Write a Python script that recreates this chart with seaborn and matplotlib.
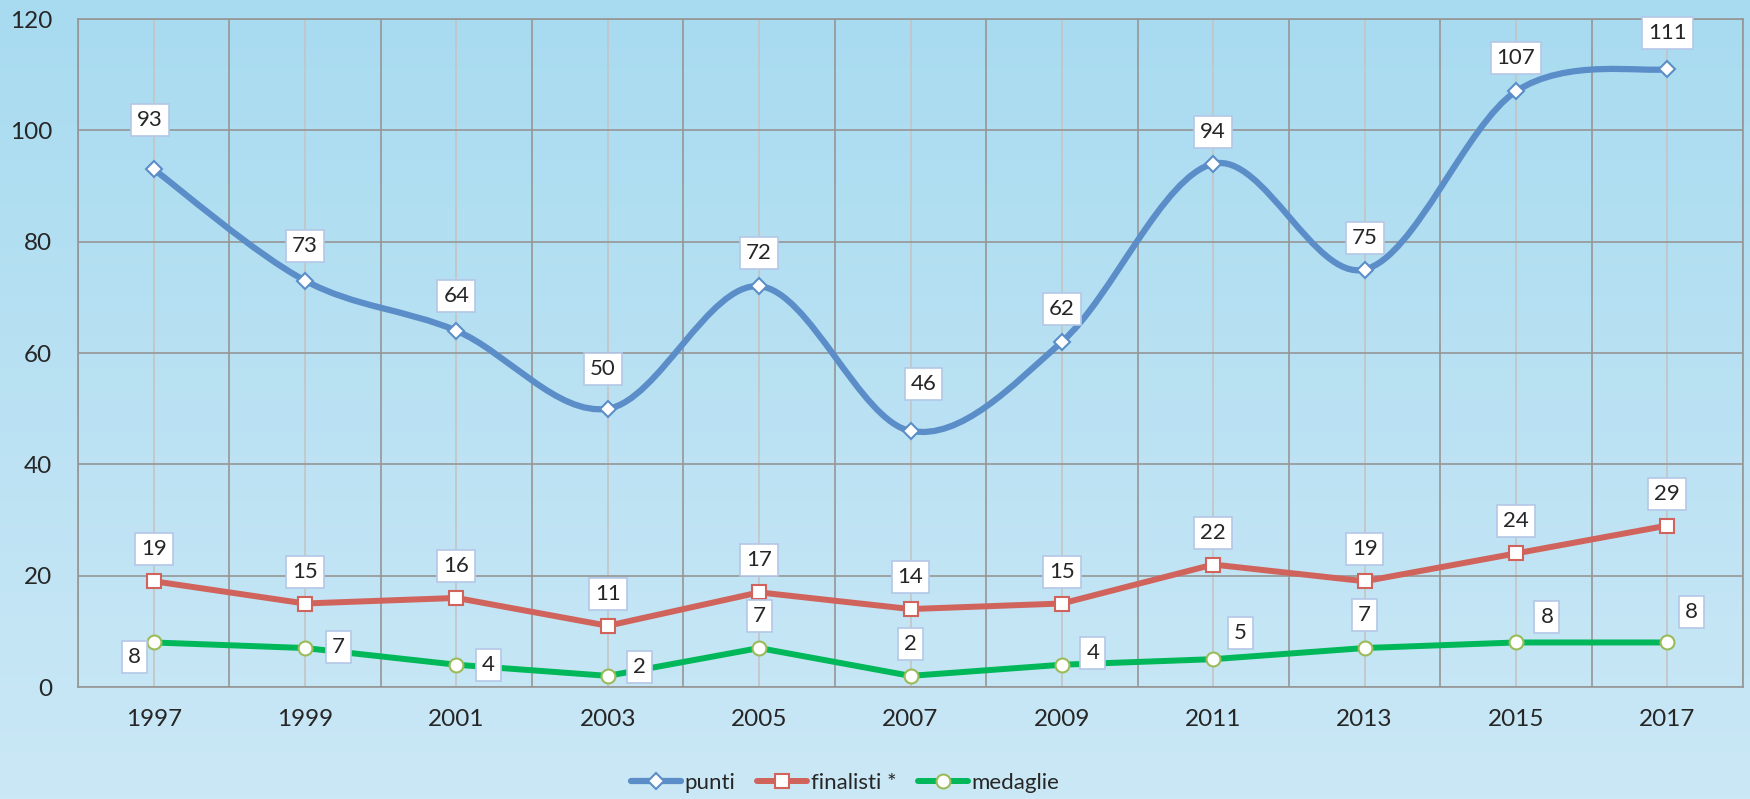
import numpy as np
import matplotlib
matplotlib.use("Agg")
import matplotlib.pyplot as plt
from matplotlib.path import Path
from matplotlib.patches import PathPatch
from matplotlib.lines import Line2D
import seaborn as sns

# --- dati ---
anni = ["1997", "1999", "2001", "2003", "2005", "2007", "2009", "2011", "2013", "2015", "2017"]
punti = [93, 73, 64, 50, 72, 46, 62, 94, 75, 107, 111]
finalisti = [19, 15, 16, 11, 17, 14, 15, 22, 19, 24, 29]
medaglie = [8, 7, 4, 2, 7, 2, 4, 5, 7, 8, 8]

# spostamento delle etichette (pixel, dx, dy)
off_punti = [(-4, 49), (0, 35), (0, 35), (-5, 40), (0, 33), (13, 47),
             (0, 33), (0, 32), (0, 32), (0, 33), (0, 36)]
off_finalisti = [(0, 32)] * 11
off_medaglie = [(-19, -15), (33, 1), (32, 0), (32, 9), (0, 32), (0, 32),
                (31, 12), (27, 26), (0, 33), (31, 25), (24, 30)]

BLU = "#5b8ec8"
ROSSO = "#d0645c"
VERDE = "#00b85a"
GRIGIO = "#969696"

sns.set_style("white")
plt.rcParams["font.family"] = ["Lato", "DejaVu Sans"]

fig = plt.figure(figsize=(17.5, 7.99), dpi=100)

# sfondo sfumato
bg = fig.add_axes([0, 0, 1, 1], zorder=-1)
grad = np.linspace(0, 1, 256).reshape(-1, 1)
cm = matplotlib.colors.LinearSegmentedColormap.from_list("sf", ["#a8dbf0", "#cbe8f6"])
bg.imshow(grad, aspect="auto", cmap=cm, extent=[0, 1, 0, 1])
bg.axis("off")

ax = fig.add_axes([78 / 1750, 1 - 687 / 799, (1743 - 78) / 1750, (687 - 19) / 799])
ax.set_facecolor("none")

pos = np.arange(len(anni))

# punti: linea smussata (bezier tipo Excel)
pts = np.column_stack([pos, punti]).astype(float)
n = len(pts)
verts = [pts[0]]
codes = [Path.MOVETO]
for i in range(n - 1):
    p0 = pts[max(i - 1, 0)]
    p1 = pts[i]
    p2 = pts[i + 1]
    p3 = pts[min(i + 2, n - 1)]
    verts += [p1 + (p2 - p0) / 6, p2 - (p3 - p1) / 6, p2]
    codes += [Path.CURVE4] * 3
ax.add_patch(PathPatch(Path(verts, codes), fill=False, edgecolor=BLU, lw=4.5,
                       capstyle="round", joinstyle="round", zorder=2))
sns.lineplot(x=pos, y=punti, ax=ax, linestyle="", marker="D", ms=8,
             mfc="white", mec=BLU, mew=1.5, zorder=3)

sns.lineplot(x=pos, y=finalisti, ax=ax, color=ROSSO, lw=4.3, marker="s", ms=10,
             mfc="white", mec=ROSSO, mew=1.5, zorder=3)
sns.lineplot(x=pos, y=medaglie, ax=ax, color=VERDE, lw=4.3, marker="o", ms=10,
             mfc="white", mec="#9bbb59", mew=1.5, zorder=3)

box = dict(boxstyle="square,pad=0.27", fc="white", ec="#b4c7e7", lw=1.2)
for serie, offs in [(punti, off_punti), (finalisti, off_finalisti), (medaglie, off_medaglie)]:
    for x, v, (dx, dy) in zip(pos, serie, offs):
        ax.annotate(str(v), (x, v), xytext=(dx, dy), textcoords="offset pixels",
                    ha="center", va="center", fontsize=16, bbox=box, zorder=5)

# assi e griglia
ax.set_xlim(-0.5, len(anni) - 0.5)
ax.set_ylim(0, 120)
ax.set_yticks(range(0, 121, 20))
ax.set_xticks(np.arange(-0.5, len(anni), 1.0))
ax.set_xticklabels([])
ax.set_xticks(pos, minor=True)
ax.set_xticklabels(anni, minor=True)
ax.tick_params(axis="x", which="major", length=6, width=1.2, color=GRIGIO, direction="out")
ax.tick_params(axis="x", which="minor", length=0, pad=16, labelsize=17.5)
ax.tick_params(axis="y", length=6.5, width=1.2, color=GRIGIO, direction="out", pad=12, labelsize=17.5)
ax.grid(which="major", color=GRIGIO, lw=1.2)
ax.grid(which="minor", axis="x", color="#c4c4c4", lw=1.2)
ax.set_axisbelow(True)
for s in ax.spines.values():
    s.set_color(GRIGIO)
    s.set_linewidth(1.2)
ax.set_xlabel("")
ax.set_ylabel("")

maniglie = [
    Line2D([], [], color=BLU, lw=4.5, marker="D", ms=8, mfc="white", mec=BLU, mew=1.5),
    Line2D([], [], color=ROSSO, lw=4.3, marker="s", ms=10, mfc="white", mec=ROSSO, mew=1.5),
    Line2D([], [], color=VERDE, lw=4.3, marker="o", ms=10, mfc="white", mec="#9bbb59", mew=1.5),
]
fig.legend(maniglie, ["punti", "finalisti *", "medaglie"], loc="center",
           bbox_to_anchor=(0.483, 1 - 783 / 799), ncol=3, frameon=False, fontsize=16,
           handlelength=2.25, handletextpad=0.15, columnspacing=1.0)

fig.savefig("out.png", dpi=100)
